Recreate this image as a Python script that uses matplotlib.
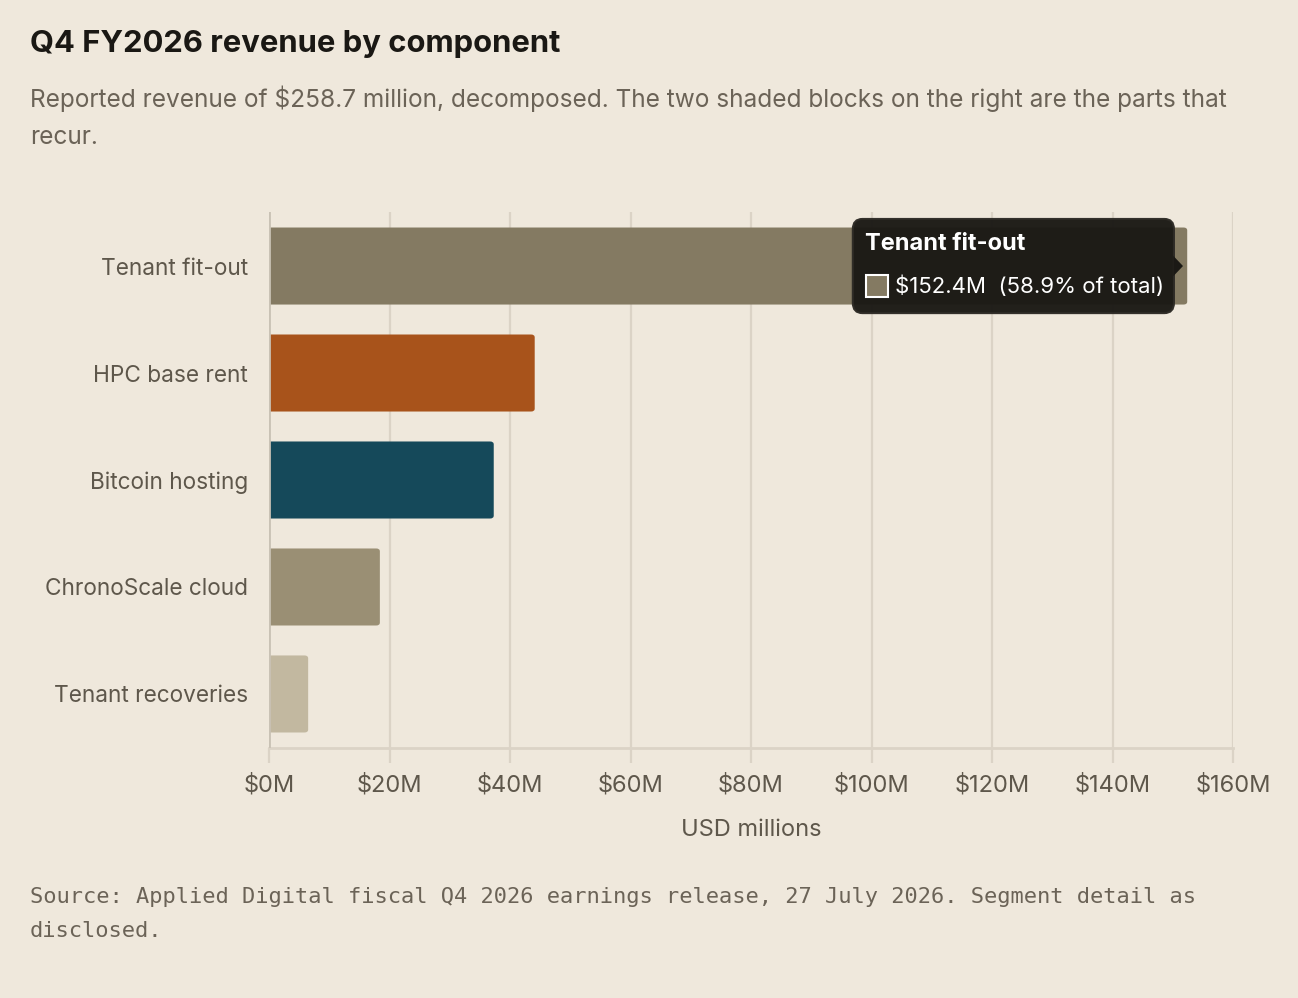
import matplotlib
matplotlib.use("Agg")
import matplotlib.pyplot as plt
from matplotlib.patches import FancyBboxPatch, Polygon
import numpy as np

components = ["Tenant fit-out", "HPC base rent", "Bitcoin hosting", "ChronoScale cloud", "Tenant recoveries"]
revenue = [152.4, 44.1, 37.3, 18.4, 6.5]
bar_colors = ["#847a62", "#a8531b", "#15495a", "#9a8f74", "#c2b8a0"]
xticks = [0, 20, 40, 60, 80, 100, 120, 140, 160]
total = 258.7

bg = "#efe8dc"
grid_c = "#dbd3c6"
text_c = "#5e574b"

plt.rcParams["font.family"] = ["Inter", "DejaVu Sans"]

fig = plt.figure(figsize=(12.98, 9.98), dpi=100, facecolor=bg)
ax = fig.add_axes([269 / 1298, 1 - 748 / 998, (1233 - 269) / 1298, (748 - 212) / 998])
ax.set_facecolor(bg)

y = np.arange(len(components))
for i, (v, c) in enumerate(zip(revenue, bar_colors)):
    # bar with small rounded right end
    ax.add_patch(FancyBboxPatch((-2, i - 0.36), v + 2, 0.72,
                                boxstyle="round,pad=0,rounding_size=0.6",
                                mutation_aspect=0.045,
                                facecolor=c, edgecolor="none", zorder=3))

ax.set_xlim(0, 160)
ax.set_ylim(4.505, -0.505)
ax.set_xticks(xticks)
ax.set_xticklabels([f"${t}M" for t in xticks], fontsize=17, color=text_c)
ax.set_yticks(y)
ax.set_yticklabels(components, fontsize=16.3, color=text_c)
ax.tick_params(axis="y", length=0, pad=15)
ax.tick_params(axis="x", length=11, width=1.6, color=grid_c, pad=8)
ax.grid(axis="x", color=grid_c, linewidth=1.6, zorder=0)
for s in ["top", "right", "left"]:
    ax.spines[s].set_visible(False)
ax.spines["bottom"].set_color(grid_c)
ax.spines["bottom"].set_linewidth(2)
ax.axvline(0, color="#c9c2b5", linewidth=2, zorder=4)
ax.set_xlabel("USD millions", fontsize=17, color=text_c, labelpad=16)

# tooltip
tip = FancyBboxPatch((96.9, -0.44), 53.3, 0.88,
                     boxstyle="round,pad=0,rounding_size=1.6",
                     mutation_aspect=0.06,
                     facecolor="#1b1915", edgecolor="#2e2b26", linewidth=1.5,
                     alpha=0.97, zorder=6)
ax.add_patch(tip)
ax.add_patch(Polygon([[150.1, -0.095], [151.7, 0.0], [150.1, 0.095]], closed=True,
                     facecolor="#1b1915", edgecolor="none", zorder=6))
ax.text(98.9, -0.205, components[0], fontsize=17, fontweight="bold", color="white",
        va="center", ha="left", zorder=7)
ax.add_patch(FancyBboxPatch((99.1, 0.085), 3.6, 0.2, boxstyle="square,pad=0",
                            facecolor=bar_colors[0], edgecolor="white", linewidth=1.5, zorder=7))
ax.text(103.9, 0.19, f"${revenue[0]}M  ({revenue[0] / total * 100:.1f}% of total)",
        fontsize=16, color="white", va="center", ha="left", zorder=7)

fig.text(30 / 1298, 1 - 44 / 998, "Q4 FY2026 revenue by component", fontsize=22.3,
         fontweight="bold", color="#1a1814", va="center", ha="left")
fig.text(30 / 1298, 1 - 99 / 998,
         "Reported revenue of $258.7 million, decomposed. The two shaded blocks on the right are the parts that",
         fontsize=17.6, color="#6b6357", va="center", ha="left")
fig.text(30 / 1298, 1 - 138 / 998, "recur.", fontsize=17.6, color="#6b6357", va="center", ha="left")

fig.text(30 / 1298, 1 - 897 / 998,
         "Source: Applied Digital fiscal Q4 2026 earnings release, 27 July 2026. Segment detail as",
         fontsize=15.8, family="DejaVu Sans Mono", color="#6b6357", va="center", ha="left")
fig.text(30 / 1298, 1 - 931 / 998, "disclosed.",
         fontsize=15.8, family="DejaVu Sans Mono", color="#6b6357", va="center", ha="left")

fig.savefig("out.png", dpi=100, facecolor=bg)
